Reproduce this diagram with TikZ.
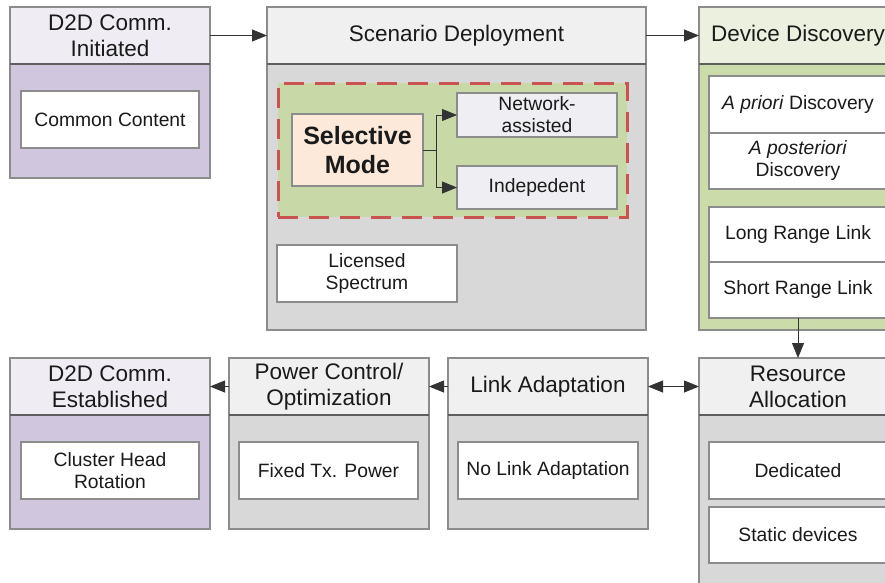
\documentclass[tikz,border=0pt]{standalone}
\usepackage{fontspec}
\setmainfont{Liberation Sans}
\usetikzlibrary{arrows.meta}
\definecolor{bordc}{HTML}{8C8C8C}
\definecolor{divc}{HTML}{5E5E5E}
\definecolor{purphead}{HTML}{EFEDF3}
\definecolor{purpbody}{HTML}{D0C7DE}
\definecolor{greyhead}{HTML}{F0F0F0}
\definecolor{greybody}{HTML}{D8D8D8}
\definecolor{greenhead}{HTML}{EBF1DE}
\definecolor{greenbody}{HTML}{CBDBA9}
\definecolor{greenzone}{HTML}{C8D9A7}
\definecolor{redash}{HTML}{C9534F}
\definecolor{peach}{HTML}{FCE9DA}
\definecolor{lavbox}{HTML}{EFEEF3}
\definecolor{txt}{HTML}{1A1A1A}
\definecolor{linec}{HTML}{333333}
\newcommand\bx[7]{\node[#6, minimum width={#4-#2}, minimum height={#5-#3}] (#1) at ({(#2+#4)/2},{(#3+#5)/2}) {#7};}
\tikzset{
  base/.style={rectangle, inner sep=0pt, outer sep=0pt, text=txt, align=center},
  bodybox/.style={base, draw=bordc, line width=1.1pt},
  headbox/.style={base, draw=bordc, line width=1.1pt, font=\fontsize{22.5}{26}\selectfont},
  innerbox/.style={base, draw=bordc, line width=1.1pt, fill=white, font=\fontsize{19.3}{22}\selectfont},
  zone/.style={base, draw=redash, fill=greenzone, line width=3pt, dash pattern=on 20pt off 11pt},
  conn/.style={draw=linec, line width=0.8pt, -{Triangle[length=15pt,width=12pt]}},
  conn2/.style={draw=linec, line width=0.8pt, {Triangle[length=15pt,width=12pt]}-{Triangle[length=15pt,width=12pt]}}
}
\begin{document}
\begin{tikzpicture}[x=1pt,y=-1pt]
\useasboundingbox (0,0) rectangle (885,582);
\clip (0,0) rectangle (885,582);
\fill[white] (0,0) rectangle (885,582);
% bodies
\bx{b1}{10}{64}{210}{178}{bodybox, fill=purpbody}{}
\bx{b2}{267}{64}{646}{330}{bodybox, fill=greybody}{}
\bx{b3}{699}{64}{897}{330}{bodybox, fill=greenbody}{}
\bx{b4}{699}{415}{897}{600}{bodybox, fill=greybody}{}
\bx{b5}{448}{415}{648}{529}{bodybox, fill=greybody}{}
\bx{b6}{229}{415}{429}{529}{bodybox, fill=greybody}{}
\bx{b7}{10}{415}{210}{529}{bodybox, fill=purpbody}{}
% headers
\bx{h1}{10}{7}{210}{64}{headbox, fill=purphead}{D2D Comm.\\Initiated}
\bx{h2}{267}{7}{646}{64}{headbox, fill=greyhead}{Scenario Deployment}
\bx{h3}{699}{7}{897}{64}{headbox, fill=greenhead}{Device Discovery}
\bx{h4}{699}{358}{897}{415}{headbox, fill=greyhead}{Resource\\Allocation}
\bx{h5}{448}{358}{648}{415}{headbox, fill=greyhead}{Link Adaptation}
\bx{h6}{229}{358}{429}{415}{headbox, fill=greyhead}{Power Control/\\Optimization}
\bx{h7}{10}{358}{210}{415}{headbox, fill=purphead}{D2D Comm.\\Established}
% header dividers
\foreach \h in {h1,h2,h3,h4,h5,h6,h7}{\draw[divc, line width=1.1pt] (\h.south west) -- (\h.south east);}
% inner boxes
\bx{cc}{21}{91}{199}{148}{innerbox}{Common Content}
\bx{zn}{278}{83}{627}{217}{zone}{}
\bx{sel}{292}{114}{423}{186}{innerbox, fill=peach, font=\fontsize{25}{29}\selectfont\bfseries}{Selective\\Mode}
\bx{net}{457}{93}{617}{137}{innerbox, fill=lavbox}{Network-\\assisted}
\bx{ind}{457}{166}{617}{209}{innerbox, fill=lavbox}{Indepedent}
\bx{lic}{277}{245}{457}{302}{innerbox}{Licensed\\Spectrum}
\bx{apr}{709}{76}{887}{133}{innerbox}{\textit{A priori} Discovery}
\bx{apo}{709}{133}{887}{189}{innerbox}{\textit{A posteriori}\\Discovery}
\bx{lrl}{709}{207}{887}{262}{innerbox}{Long Range Link}
\bx{srl}{709}{262}{887}{318}{innerbox}{Short Range Link}
\bx{ded}{709}{442}{887}{499}{innerbox}{Dedicated}
\bx{sta}{709}{507}{887}{563}{innerbox}{Static devices}
\bx{nla}{458}{442}{638}{499}{innerbox}{No Link Adaptation}
\bx{ftp}{239}{442}{418}{499}{innerbox}{Fixed Tx. Power}
\bx{chr}{21}{442}{199}{499}{innerbox}{Cluster Head\\Rotation}
% connectors
\draw[conn] (h1.east) -- (h2.west);
\draw[conn] (h2.east) -- (h3.west);
\draw[conn] (srl.south) -- (h4.north);
\draw[conn2] (h5.east) -- (h4.west);
\draw[conn] (h5.west) -- (h6.east);
\draw[conn] (h6.west) -- (h7.east);
\draw[conn] (sel.east) -- ++(13,0) |- (net.west);
\draw[conn] (sel.east) -- ++(13,0) |- (ind.west);
\end{tikzpicture}
\end{document}
